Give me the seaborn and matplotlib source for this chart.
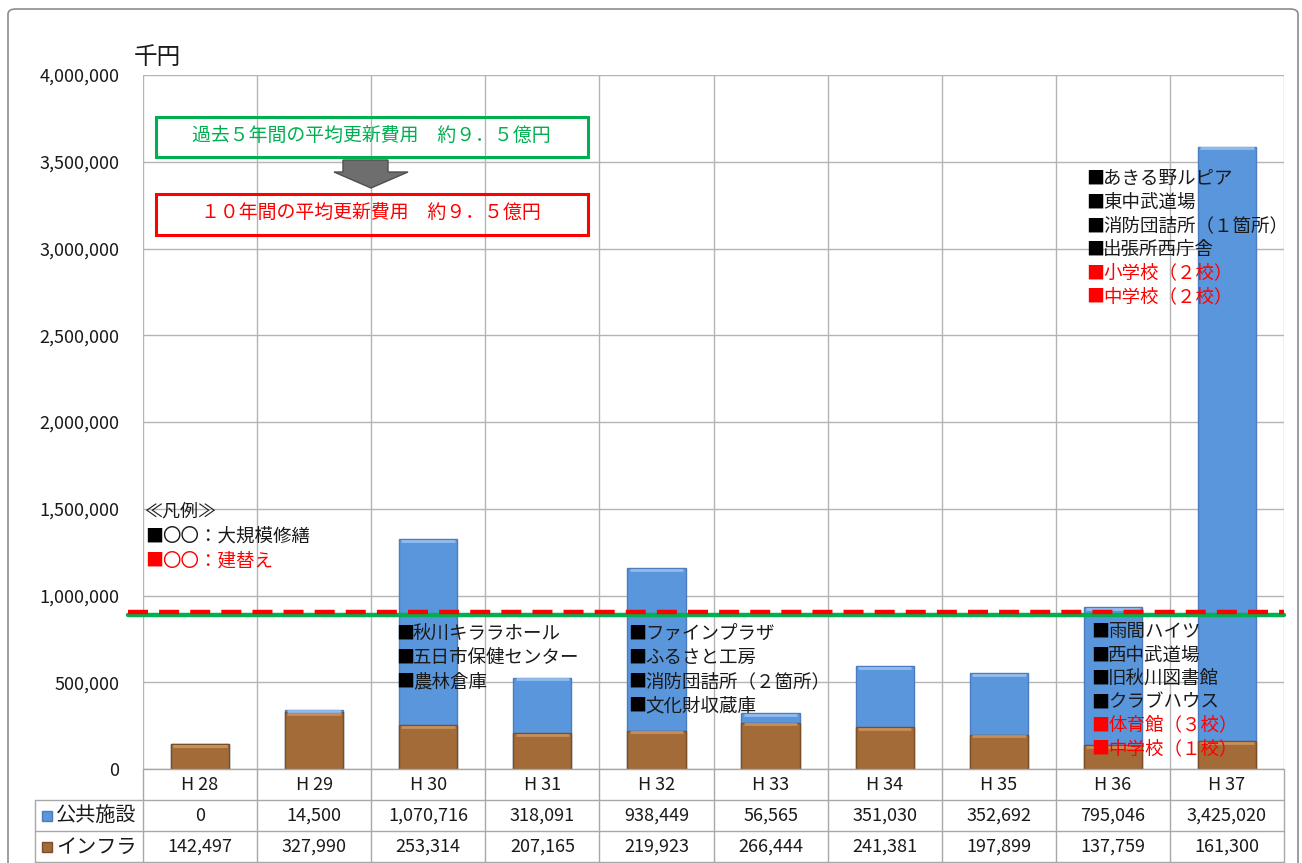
import matplotlib
matplotlib.use("Agg")
import matplotlib.pyplot as plt
import seaborn as sns
import numpy as np
import pandas as pd
from matplotlib.patches import Rectangle, Polygon, FancyBboxPatch
from matplotlib.lines import Line2D
from matplotlib.ticker import FuncFormatter, MultipleLocator, FixedLocator

# ---- data ----
categories = ["H 28", "H 29", "H 30", "H 31", "H 32", "H 33", "H 34", "H 35", "H 36", "H 37"]
public_facilities = [0, 14500, 1070716, 318091, 938449, 56565, 351030, 352692, 795046, 3425020]
infrastructure = [142497, 327990, 253314, 207165, 219923, 266444, 241381, 197899, 137759, 161300]
series_names = ["公共施設", "インフラ"]
avg_past5 = 888000      # green line (past 5-year average, as drawn)
avg_10yr = 905000       # red dashed line (10-year average, as drawn)

legend_lines = ["≪凡例≫", "■〇〇：大規模修繕", "■〇〇：建替え"]
notes_h30 = ["秋川キララホール", "五日市保健センター", "農林倉庫"]
notes_h32 = ["ファインプラザ", "ふるさと工房", "消防団詰所（２箇所）", "文化財収蔵庫"]
notes_h36 = [("雨間ハイツ", "k"), ("西中武道場", "k"), ("旧秋川図書館", "k"), ("クラブハウス", "k"),
             ("体育館（３校）", "r"), ("中学校（１校）", "r")]
notes_h37 = [("あきる野ルピア", "k"), ("東中武道場", "k"), ("消防団詰所（１箇所）", "k"), ("出張所西庁舎", "k"),
             ("小学校（２校）", "r"), ("中学校（２校）", "r")]
box_green = "過去５年間の平均更新費用　約９．５億円"
box_red = "１０年間の平均更新費用　約９．５億円"

df = pd.DataFrame({"year": categories, "public": public_facilities, "infra": infrastructure})
df["total"] = df["public"] + df["infra"]

# ---- style ----
sns.set_style("white")
plt.rcParams["font.family"] = ["Noto Sans CJK JP", "DejaVu Sans"]

W, H = 1302, 863
fig = plt.figure(figsize=(W / 100, H / 100), dpi=100)
fig.patch.set_facecolor("white")

def fx(px):
    return px / W

def fy(py):
    return 1 - py / H

L, R, T, B = 143, 1284, 75, 769
ax = fig.add_axes([fx(L), fy(B), fx(R) - fx(L), fy(T) - fy(B)])

BLUE = "#5A96DC"
BLUE_E = "#4A7DC0"
BROWN = "#A36B38"
BROWN_E = "#7A4E26"

sns.barplot(data=df, x="year", y="total", color=BLUE, saturation=1, width=0.51,
            edgecolor=BLUE_E, linewidth=1.0, ax=ax, zorder=3)
sns.barplot(data=df, x="year", y="infra", color=BROWN, saturation=1, width=0.51,
            edgecolor=BROWN_E, linewidth=1.0, ax=ax, zorder=3)

# light bevel highlight on top of each segment
for p in ax.patches:
    h = p.get_height()
    if h <= 0:
        continue
    x0, w = p.get_x(), p.get_width()
    top = p.get_y() + h
    light = "#92bcee" if p.get_facecolor()[2] > 0.6 else "#c68e58"
    ax.plot([x0 + w * 0.04, x0 + w * 0.96], [top - 9000, top - 9000], color=light,
            lw=2.0, solid_capstyle="butt", zorder=4)

ax.set_xlim(-0.5, 9.5)
ax.set_ylim(0, 4000000)
ax.yaxis.set_major_locator(MultipleLocator(500000))
ax.yaxis.set_major_formatter(FuncFormatter(lambda v, p: f"{int(v):,}"))
ax.xaxis.set_major_locator(FixedLocator(np.arange(-0.5, 10, 1)))
ax.set_xticklabels([])
ax.tick_params(axis="x", length=0)
ax.tick_params(axis="y", length=0, pad=17, labelsize=13, labelcolor="#1a1a1a")
ax.grid(True, axis="both", color="#b4b4b4", linewidth=1.0, zorder=0)
ax.set_axisbelow(True)
for s in ax.spines.values():
    s.set_visible(False)
ax.set_xlabel("")
ax.set_ylabel("")

# average lines
ax.axhline(avg_past5, xmin=(128 - L) / (R - L), xmax=1.0, color="#00B050", lw=3.2,
           clip_on=False, zorder=5)
ax.axhline(avg_10yr, xmin=(128 - L) / (R - L), xmax=1.0, color="#FF0000", lw=3.2,
           dashes=(4.5, 2.5), clip_on=False, zorder=6)

# unit label
fig.text(fx(134), fy(57), "千円", fontsize=17, va="center", ha="left", color="#1a1a1a")

# annotation boxes
for (y0, y1, col, txt) in [(117, 157, "#00B050", box_green), (194, 235, "#FF0000", box_red)]:
    fig.add_artist(Rectangle((fx(156), fy(y1)), fx(588) - fx(156), fy(y0) - fy(y1),
                             transform=fig.transFigure, fill=False, edgecolor=col, lw=2.2, zorder=7))
    fig.text(fx(371), fy((y0 + y1) / 2 - 2), txt, fontsize=13.6, color=col, ha="center", va="center", zorder=8)

# down arrow
arrow_px = [(343, 160), (388, 160), (388, 172), (408, 172), (371, 188), (334, 172), (343, 172)]
fig.add_artist(Polygon([(fx(a), fy(b)) for a, b in arrow_px], closed=True, transform=fig.transFigure,
                       facecolor="#6e6e6e", edgecolor="#4f4f4f", lw=1, zorder=7))

TXT = "#1a1a1a"
RED = "#FF0000"

def note(px, py, text, color):
    sq_col = "black" if color == "k" else RED
    tc = TXT if color == "k" else RED
    fig.text(fx(px), fy(py), "■", fontsize=13, color=sq_col, va="center", ha="left", zorder=9)
    fig.text(fx(px + 17), fy(py), text, fontsize=13.3, color=tc, va="center", ha="left", zorder=9)

# legend block
fig.text(fx(144), fy(512), legend_lines[0], fontsize=13, color=TXT, va="center", ha="left", zorder=9)
note(145, 537, legend_lines[1][1:], "k")
note(145, 561, legend_lines[2][1:], "r")

for i, t in enumerate(notes_h30):
    note(396, 634 + i * 24, t, "k")
for i, t in enumerate(notes_h32):
    note(628, 634 + i * 24, t, "k")
for i, (t, c) in enumerate(notes_h36):
    note(1091, 632 + i * 23.4, t, c)
for i, (t, c) in enumerate(notes_h37):
    note(1086, 179 + i * 23.6, t, c)

# ---- data table ----
GRID = "#a8a8a8"
colw = (R - L) / 10
fig.add_artist(Line2D([fx(L), fx(R)], [fy(B), fy(B)], transform=fig.transFigure, color=GRID, lw=1))
for yy in (800, 831, 862):
    fig.add_artist(Line2D([fx(35), fx(R)], [fy(yy), fy(yy)], transform=fig.transFigure, color=GRID, lw=1))
for k in range(11):
    xx = L + colw * k
    fig.add_artist(Line2D([fx(xx), fx(xx)], [fy(B), fy(863)], transform=fig.transFigure, color=GRID, lw=1))
fig.add_artist(Line2D([fx(35), fx(35)], [fy(800), fy(863)], transform=fig.transFigure, color=GRID, lw=1))

for i, c in enumerate(categories):
    cx = L + colw * (i + 0.5)
    fig.text(fx(cx), fy(785), c, fontsize=13, ha="center", va="center", color=TXT)
    fig.text(fx(cx), fy(816), f"{public_facilities[i]:,}", fontsize=13, ha="center", va="center", color=TXT)
    fig.text(fx(cx), fy(847), f"{infrastructure[i]:,}", fontsize=13, ha="center", va="center", color=TXT)

for (py, col, ecol, name) in [(816, BLUE, BLUE_E, series_names[0]), (847, BROWN, BROWN_E, series_names[1])]:
    fig.add_artist(Rectangle((fx(42), fy(py + 5)), fx(52) - fx(42), fy(py - 5) - fy(py + 5),
                             transform=fig.transFigure, facecolor=col, edgecolor=ecol, lw=1))
    fig.text(fx(56), fy(py), name, fontsize=14.5, ha="left", va="center", color=TXT)

# outer chart border
fig.add_artist(FancyBboxPatch((fx(8), fy(900)), fx(1298) - fx(8), fy(9) - fy(900),
                              boxstyle="round,pad=0,rounding_size=0.006", transform=fig.transFigure,
                              fill=False, edgecolor="#8c8c8c", lw=1.2))

fig.savefig("out.png", dpi=100, facecolor="white")
